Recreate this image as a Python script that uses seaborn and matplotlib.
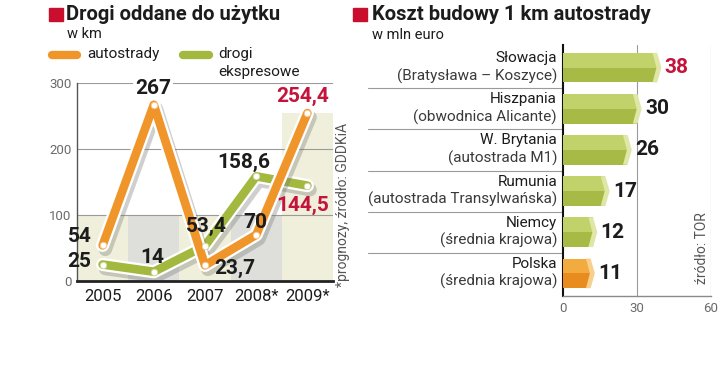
import numpy as np
import pandas as pd
import matplotlib
matplotlib.use('Agg')
import matplotlib.pyplot as plt
import matplotlib.patheffects as pe
from matplotlib.patches import Rectangle, Polygon
from matplotlib.lines import Line2D
import seaborn as sns

sns.set_style('white')
plt.rcParams['font.family'] = ['Roboto', 'DejaVu Sans']

# dane: drogi oddane do użytku (km)
years = ['2005', '2006', '2007', '2008*', '2009*']
autostrady = [54, 267, 23.7, 70, 254.4]
ekspresowe = [25, 14, 53.4, 158.6, 144.5]
auto_labels = ['54', '267', '23,7', '70', '254,4']
eksp_labels = ['25', '14', '53,4', '158,6', '144,5']
band_tops = [100, 100, 100, 100, 254.4]

# dane: koszt budowy 1 km autostrady (mln euro)
kraje = ['Słowacja', 'Hiszpania', 'W. Brytania', 'Rumunia', 'Niemcy', 'Polska']
odcinki = ['(Bratysława – Koszyce)', '(obwodnica Alicante)', '(autostrada M1)',
           '(autostrada Transylwańska)', '(średnia krajowa)', '(średnia krajowa)']
koszt = [38, 30, 26, 17, 12, 11]
koszt_labels = ['38', '30', '26', '17', '12', '11']

# kolory
ORANGE = '#f0952a'
GREEN = '#a3b83e'
RED = '#c8102e'
CRIMSON = '#c4143c'
TXT = '#1c1c1c'

W, H = 720, 376
fig = plt.figure(figsize=(W / 100, H / 100), dpi=100)


def px_axes(x0, y0, x1, y1):
    return fig.add_axes([x0 / W, 1 - y1 / H, (x1 - x0) / W, (y1 - y0) / H])


def fx(x):
    return x / W


def fy(y):
    return 1 - y / H


# ---------------- lewy wykres ----------------
ax1 = px_axes(77, 83, 333, 281)
pos = np.arange(len(years))
df = pd.DataFrame({'x': pos, 'rok': years, 'autostrady': autostrady, 'ekspresowe': ekspresowe})

band_colors = ['#efefdb', '#dededa', '#efefdb', '#dededa', '#efefdb']
sns.barplot(x='rok', y=band_tops, data=df, hue='rok', palette=band_colors, width=1.0,
            ax=ax1, legend=False, zorder=0, linewidth=0, saturation=1)

for yv in [100, 200, 300]:
    ax1.axhline(yv, color='#9a9a9a', lw=0.8, zorder=1)

line_fx = [pe.SimpleLineShadow(offset=(2, -3), shadow_color='#777777', alpha=0.35, linewidth=9.5),
           pe.Stroke(linewidth=9.5, foreground='white'), pe.Normal()]
sns.lineplot(x='x', y='ekspresowe', data=df, ax=ax1, color=GREEN, lw=6.2, sort=False, zorder=3)
sns.lineplot(x='x', y='autostrady', data=df, ax=ax1, color=ORANGE, lw=6.2, sort=False, zorder=4)
for ln in ax1.lines[-2:]:
    ln.set_solid_joinstyle('round')
    ln.set_solid_capstyle('round')
    ln.set_path_effects(line_fx)

sns.scatterplot(x='x', y='ekspresowe', data=df, ax=ax1, color='white', edgecolor='#cfd89a',
                s=22, linewidth=0.6, zorder=5)
sns.scatterplot(x='x', y='autostrady', data=df, ax=ax1, color='white', edgecolor='#f5c58a',
                s=22, linewidth=0.6, zorder=5)

auto_off = [(-0.45, 12.7), (-0.02, 25), (0.59, -4), (-0.02, 18), (-0.1, 24.6)]
eksp_off = [(-0.45, 3.8), (-0.04, 22), (0.02, 28.6), (-0.25, 21.4), (-0.1, -29.5)]
auto_col = [TXT, TXT, TXT, TXT, CRIMSON]
eksp_col = [TXT, TXT, TXT, TXT, CRIMSON]
for i in range(len(years)):
    dx, dy = auto_off[i]
    bb = dict(boxstyle='square,pad=0.1', fc='white', ec='none') if i == 1 else None
    ax1.text(i + dx, autostrady[i] + dy, auto_labels[i], ha='center', va='center',
             fontsize=15, fontweight='bold', color=auto_col[i], zorder=6, bbox=bb, clip_on=False)
    dx, dy = eksp_off[i]
    ax1.text(i + dx, ekspresowe[i] + dy, eksp_labels[i], ha='center', va='center',
             fontsize=15, fontweight='bold', color=eksp_col[i], zorder=6, clip_on=False)

ax1.set_xlim(-0.5, 4.5)
ax1.set_ylim(0, 300)
ax1.set_xticks(pos)
ax1.set_xticklabels(years, fontsize=12, color=TXT)
ax1.set_yticks([0, 100, 200, 300])
ax1.set_yticklabels(['0', '100', '200', '300'], fontsize=9.5, color='#6a6a6a')
ax1.tick_params(axis='both', length=0)
ax1.tick_params(axis='x', pad=6)
ax1.tick_params(axis='y', pad=4)
ax1.set_xlabel('')
ax1.set_ylabel('')
for s in ['top', 'right']:
    ax1.spines[s].set_visible(False)
ax1.spines['left'].set_color('#555555')
ax1.spines['left'].set_linewidth(1)
ax1.spines['bottom'].set_color('#222222')
ax1.spines['bottom'].set_linewidth(2)
ax1.spines['bottom'].set_zorder(7)

fig.text(fx(343), fy(205), '*prognozy, źródło: GDDKiA', rotation=90, ha='center', va='center',
         fontsize=10, color='#555555')

# tytuł i legenda lewego wykresu
fig.patches.append(Rectangle((fx(49), fy(21)), 14 / W, 13 / H, transform=fig.transFigure,
                             color=RED))
fig.text(fx(66), fy(15), 'Drogi oddane do użytku', fontsize=14.5, fontweight='bold',
         va='center', color=TXT)
fig.text(fx(67), fy(34), 'w km', fontsize=10.5, va='center', color=TXT)

fig.add_artist(Line2D([fx(52), fx(77)], [fy(55), fy(55)], transform=fig.transFigure,
                      lw=6, color=ORANGE, solid_capstyle='round'))
fig.text(fx(87), fy(54), 'autostrady', fontsize=11, va='center', color=TXT)
fig.add_artist(Line2D([fx(183), fx(209)], [fy(55), fy(55)], transform=fig.transFigure,
                      lw=6, color=GREEN, solid_capstyle='round'))
fig.text(fx(218), fy(54), 'drogi', fontsize=11, va='center', color=TXT)
fig.text(fx(218), fy(72), 'ekspresowe', fontsize=11, va='center', color=TXT)

# ---------------- prawy wykres ----------------
ax2 = px_axes(563, 45, 711, 296)
top_colors = ['#c2d26a'] * 5 + ['#f2ab3e']
bottom_colors = ['#a7ba46'] * 5 + ['#e88c20']
cap_colors = ['#dfe6a6'] * 5 + ['#f6d08c']

sns.barplot(x=koszt, y=kraje, orient='h', hue=kraje, palette=top_colors, width=0.72,
            ax=ax2, legend=False, zorder=3, linewidth=0, saturation=1)
rows = np.arange(len(kraje))
ax2.barh(rows + 0.18, koszt, height=0.36, color=bottom_colors, zorder=4, linewidth=0)
for i, v in enumerate(koszt):
    top, bot = i - 0.36, i + 0.36
    ax2.add_patch(Polygon([(v - 1.7, top), (v + 0.2, top), (v + 1.9, i), (v + 0.2, bot),
                           (v - 1.7, bot), (v - 0.1, i)], closed=True,
                          facecolor=cap_colors[i], edgecolor='none', zorder=5))
    ax2.text(v + 3.2, i, koszt_labels[i], ha='left', va='center', fontsize=15,
             fontweight='bold', color=CRIMSON if i == 0 else TXT, zorder=6)
    ax2.text(-2.4, i - 0.23, kraje[i], ha='right', va='center', fontsize=11,
             color=TXT, clip_on=False)
    ax2.text(-2.4, i + 0.2, odcinki[i], ha='right', va='center', fontsize=11,
             color='#3a3a3a', clip_on=False)

for i in range(len(kraje) - 1):
    ax2.plot([-79, 0], [i + 0.5, i + 0.5], color='#9a9a9a', lw=0.8, clip_on=False, zorder=1)

for xv in [30, 60]:
    ax2.axvline(xv, color='#9a9a9a', lw=0.8, zorder=1)

ax2.set_xlim(0, 60)
ax2.set_ylim(5.55, -0.55)
ax2.set_xticks([0, 30, 60])
ax2.set_xticklabels(['0', '30', '60'], fontsize=9.5, color='#6a6a6a')
ax2.set_yticks([])
ax2.tick_params(axis='x', length=0, pad=4)
ax2.set_xlabel('')
ax2.set_ylabel('')
for s in ['top', 'right']:
    ax2.spines[s].set_visible(False)
ax2.spines['left'].set_color('#111111')
ax2.spines['left'].set_linewidth(1.5)
ax2.spines['bottom'].set_color('#8a8a8a')
ax2.spines['bottom'].set_linewidth(1)

fig.text(fx(702), fy(248), 'źródło: TOR', rotation=90, ha='center', va='center',
         fontsize=10, color='#555555')

fig.patches.append(Rectangle((fx(353), fy(21)), 14 / W, 13 / H, transform=fig.transFigure,
                             color=RED))
fig.text(fx(372), fy(15), 'Koszt budowy 1 km autostrady', fontsize=14.5, fontweight='bold',
         va='center', color=TXT)
fig.text(fx(372), fy(35), 'w mln euro', fontsize=10.5, va='center', color=TXT)

fig.savefig('out.png', dpi=100)
